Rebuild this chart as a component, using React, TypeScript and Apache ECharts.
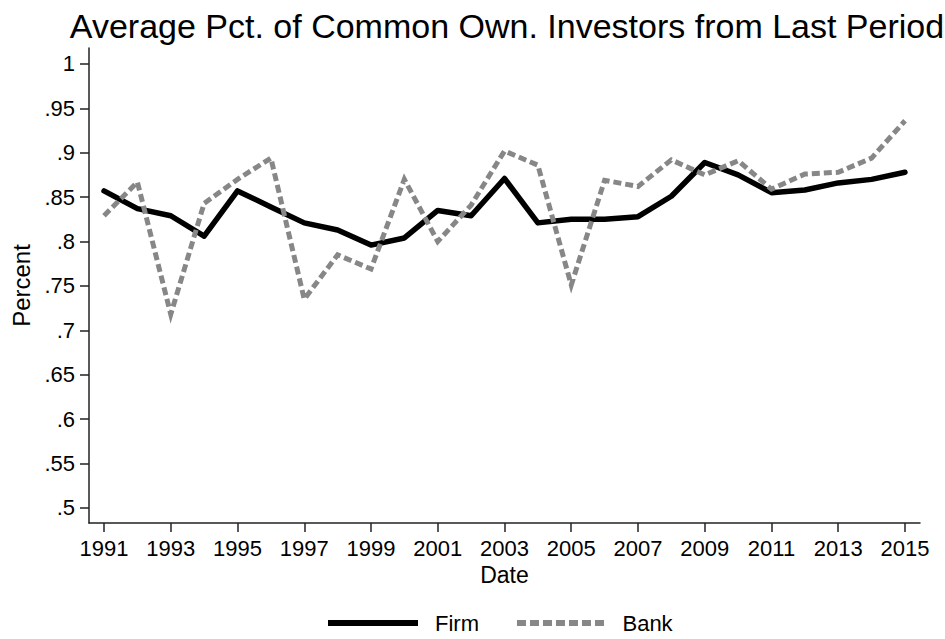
import React, { useEffect, useRef } from "react";
import * as echarts from "echarts";

const years = [
  1991, 1992, 1993, 1994, 1995, 1996, 1997, 1998, 1999, 2000, 2001, 2002, 2003,
  2004, 2005, 2006, 2007, 2008, 2009, 2010, 2011, 2012, 2013, 2014, 2015,
];
const firm = [
  0.857, 0.837, 0.829, 0.806, 0.857, 0.839, 0.821, 0.813, 0.796, 0.804, 0.835, 0.829, 0.871,
  0.821, 0.825, 0.825, 0.828, 0.851, 0.889, 0.875, 0.855, 0.858, 0.866, 0.87, 0.878,
];
const bank = [
  0.829, 0.867, 0.718, 0.843, 0.87, 0.894, 0.735, 0.785, 0.769, 0.87, 0.8, 0.841, 0.902,
  0.886, 0.751, 0.869, 0.862, 0.892, 0.875, 0.891, 0.859, 0.876, 0.878, 0.894, 0.936,
];
const xTicks = [1991, 1993, 1995, 1997, 1999, 2001, 2003, 2005, 2007, 2009, 2011, 2013, 2015];
const yTicks = [0.5, 0.55, 0.6, 0.65, 0.7, 0.75, 0.8, 0.85, 0.9, 0.95, 1];

const FONT = "'Liberation Sans', Arial, Helvetica, sans-serif";

// legend icon shapes (solid bar and dashed bar)
const SOLID_ICON = "path://M0,0h90v6h-90z";
let dashed = "path://";
for (let i = 0; i < 7; i++) dashed += `M${i * 13},0h9v6h-9z`;
const DASHED_ICON = dashed;

export default function App() {
  const ref = useRef<HTMLDivElement>(null);
  useEffect(() => {
    if (!ref.current) return;
    const chart = echarts.init(ref.current, null, { renderer: "svg" });
    const fmtY = (v: number) => {
      if (Math.abs(v - 1) < 1e-9) return "1";
      return v.toFixed(2).replace(/0$/, "").replace(/^0/, "");
    };
    chart.setOption({
      animation: false,
      backgroundColor: "#ffffff",
      textStyle: { fontFamily: FONT },
      title: {
        text: "Average Pct. of Common Own. Investors from Last Period",
        left: 502,
        textAlign: "center",
        top: 4,
        textStyle: { fontFamily: FONT, fontSize: 34, fontWeight: "normal", color: "#000" },
      },
      grid: { left: 89, right: 25, top: 48, bottom: 116, containLabel: false },
      xAxis: {
        type: "value",
        min: 1990.55,
        max: 2015.45,
        name: "Date",
        nameLocation: "middle",
        nameGap: 40,
        nameTextStyle: { fontFamily: FONT, fontSize: 23, color: "#000" },
        axisLine: { show: true, onZero: false, lineStyle: { color: "#222", width: 1.5 } },
        axisTick: { show: true, length: 9, customValues: xTicks, lineStyle: { color: "#222", width: 1.5 } },
        axisLabel: {
          customValues: xTicks,
          formatter: (v: number) => String(Math.round(v)),
          fontFamily: FONT,
          fontSize: 22,
          color: "#000",
          margin: 14,
        },
        splitLine: { show: false },
      },
      yAxis: {
        type: "value",
        min: 0.4829,
        max: 1.018,
        name: "Percent",
        nameLocation: "middle",
        nameGap: 55,
        nameTextStyle: { fontFamily: FONT, fontSize: 24, color: "#000" },
        axisLine: { show: true, onZero: false, lineStyle: { color: "#222", width: 1.5 } },
        axisTick: { show: true, length: 9, customValues: yTicks, lineStyle: { color: "#222", width: 1.5 } },
        axisLabel: {
          customValues: yTicks,
          formatter: fmtY,
          fontFamily: FONT,
          fontSize: 22,
          color: "#000",
          margin: 14,
        },
        splitLine: { show: false },
      },
      legend: {
        left: 328,
        top: 612,
        padding: 0,
        itemWidth: 90,
        itemHeight: 6,
        itemGap: 38,
        textStyle: { fontFamily: FONT, fontSize: 22, color: "#000", padding: [0, 0, 0, 12] },
        data: [
          { name: "Firm", icon: SOLID_ICON, itemStyle: { color: "#000" } },
          { name: "Bank", icon: DASHED_ICON, itemStyle: { color: "#878787" } },
        ],
      },
      series: [
        {
          name: "Firm",
          type: "line",
          data: years.map((y, i) => [y, firm[i]]),
          showSymbol: false,
          symbol: "none",
          lineStyle: { color: "#000", width: 5.5, cap: "round", join: "round" },
          itemStyle: { color: "#000" },
        },
        {
          name: "Bank",
          type: "line",
          data: years.map((y, i) => [y, bank[i]]),
          showSymbol: false,
          symbol: "none",
          lineStyle: { color: "#878787", width: 5, type: [8, 4], cap: "butt", join: "miter" },
          itemStyle: { color: "#878787" },
        },
      ],
    });
    return () => chart.dispose();
  }, []);
  return (
    <div
      ref={ref}
      style={{ position: "absolute", left: 0, top: 0, width: 945, height: 639, background: "#fff" }}
    />
  );
}
